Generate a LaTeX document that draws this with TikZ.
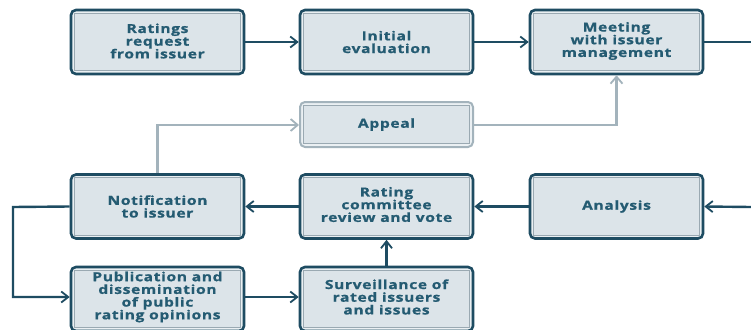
\documentclass[tikz,border=0pt]{standalone}
\usepackage{fontspec}
\setmainfont{Open Sans}
\newfontfamily\boxfont{Open Sans}[FakeStretch=1.25, LetterSpace=5, FakeBold=0.8]
\usetikzlibrary{arrows.meta}
\definecolor{dk}{HTML}{1E4C62}
\definecolor{txt}{HTML}{245B72}
\definecolor{lt}{HTML}{A3B3BC}
\definecolor{fillo}{HTML}{EBF0F3}
\definecolor{filli}{HTML}{DCE4E9}
\definecolor{innerln}{HTML}{9AA9B2}
\tikzset{
  stepbox/.style={draw=dk, line width=2.6pt, rounded corners=5pt, fill=fillo,
    minimum width=173pt, minimum height=64pt, inner sep=0pt},
  lightbox/.style={stepbox, draw=lt, line width=2pt, minimum height=45pt},
  innerbox/.style={draw=innerln, line width=0.8pt, fill=filli},
  boxtext/.style={align=center, text=txt, font=\boxfont\bfseries\fontsize{12.5}{12.7}\selectfont},
  darkline/.style={draw=dk, line width=2.4pt, -{Straight Barb[length=7pt,width=11pt,line width=1.8pt]}},
  darkplain/.style={draw=dk, line width=2.4pt},
  lightline/.style={draw=lt, line width=2.2pt, -{Straight Barb[length=7pt,width=12pt,line width=1.8pt]}},
}
\begin{document}
\begin{tikzpicture}[x=1pt,y=-1pt]
\useasboundingbox (0,0) rectangle (751,329);
\fill[white] (0,0) rectangle (751,329);
\node[stepbox] (b1) at (157.5,42) {};
\node[stepbox] (b2) at (386.5,42) {};
\node[stepbox] (b3) at (616.5,42) {};
\node[lightbox] (ap) at (386.5,124.5) {};
\node[stepbox] (nt) at (157.5,206.5) {};
\node[stepbox] (rc) at (386.5,206.5) {};
\node[stepbox] (an) at (616.5,206.5) {};
\node[stepbox] (pb) at (157.5,299) {};
\node[stepbox] (sv) at (386.5,299) {};
\foreach \n in {b1,b2,b3,ap,nt,rc,an,pb,sv}{
  \draw[innerbox] ([xshift=4.5pt,yshift=-4.5pt]\n.north west) rectangle ([xshift=-4.5pt,yshift=4.5pt]\n.south east);
}
\begin{scope}[every node/.style={boxtext}]
\node at ([yshift=1pt]b1.center) {Ratings\\request\\from issuer};
\node at (b2) {Initial\\evaluation};
\node at ([yshift=1pt]b3.center) {Meeting\\with issuer\\management};
\node at (ap) {Appeal};
\node at (nt) {Notification\\to issuer};
\node at ([yshift=2pt]rc.center) {Rating\\committee\\review and vote};
\node at (an) {Analysis};
\node at ([yshift=2pt]pb.center) {Publication and\\dissemination\\of public\\rating opinions};
\node at ([yshift=2pt]sv.center) {Surveillance of\\rated issuers\\and issues};
\end{scope}
\coordinate (rin) at (751,42);
\coordinate (rout) at (751,207);
\coordinate (l1) at (13,207);
\coordinate (l2) at (13,297);
\coordinate (a1) at (157.5,125);
\coordinate (a2) at (616.5,125);
\draw[darkline] (b1) -- (b2);
\draw[darkline] (b2) -- (b3);
\draw[darkplain] (b3.east) -- (rin);
\draw[darkline] (rout) -- (an.east);
\draw[darkline] (an) -- (rc);
\draw[darkline] (rc) -- (nt);
\draw[darkline] (nt.west) -- (l1) -- (l2) -- (pb.west |- l2);
\draw[darkline] (pb.east |- l2) -- (sv.west |- l2);
\draw[darkline] (sv) -- (rc);
\draw[lightline] (nt.north) -- (a1) -- (ap.west |- a1);
\draw[lightline] (ap.east |- a2) -- (a2) -- (b3.south);
\end{tikzpicture}
\end{document}
